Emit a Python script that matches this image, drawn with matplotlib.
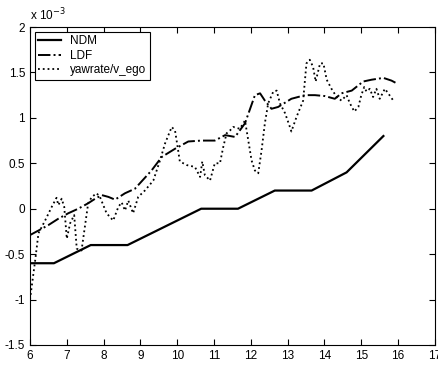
import matplotlib
matplotlib.use('Agg')
import matplotlib.pyplot as plt

plt.rcParams['font.family'] = ['Liberation Sans', 'DejaVu Sans']

# values in units of 1e-3
ndm_x = [6, 6.65, 7.65, 8.65, 10.65, 11.65, 12.65, 13.65, 14.6, 15.6]
ndm_y = [-0.6, -0.6, -0.4, -0.4, 0.0, 0.0, 0.2, 0.2, 0.4, 0.8]

ldf_x = [6.0, 6.23, 6.5, 6.77, 7.04, 7.31, 7.58, 7.77, 7.95, 8.13, 8.31, 8.58,
         8.85, 9.3, 9.58, 9.94, 10.3, 10.66, 11.02, 11.3, 11.57, 11.84, 12.11,
         12.25, 12.38, 12.56, 12.74, 13.1, 13.47, 13.74, 14.01, 14.28, 14.46,
         14.74, 15.05, 15.28, 15.6, 15.82, 15.96]
ldf_y = [-0.29, -0.24, -0.18, -0.11, -0.05, 0.0, 0.06, 0.11, 0.15, 0.13, 0.1, 0.17,
         0.22, 0.42, 0.57, 0.66, 0.74, 0.75, 0.75, 0.81, 0.79, 0.94, 1.25,
         1.27, 1.19, 1.1, 1.12, 1.21, 1.25, 1.25, 1.24, 1.21, 1.27,
         1.3, 1.4, 1.42, 1.44, 1.41, 1.38]

yaw_x = [6.0, 6.14, 6.23, 6.41, 6.59, 6.72, 6.77, 6.86, 6.93, 7.0, 7.09, 7.2,
         7.27, 7.4, 7.49, 7.58, 7.68, 7.81, 7.9, 8.08, 8.26, 8.4, 8.49, 8.58,
         8.67, 8.8, 8.94, 9.12, 9.35, 9.53, 9.67, 9.85, 9.94, 10.01, 10.07,
         10.26, 10.48, 10.62, 10.68, 10.75, 10.89, 11.02, 11.16, 11.25, 11.34,
         11.43, 11.52, 11.7, 11.84, 11.93, 12.02, 12.11, 12.2, 12.29, 12.38,
         12.47, 12.61, 12.7, 12.79, 12.93, 13.06, 13.1, 13.24, 13.42, 13.47,
         13.51, 13.6, 13.69, 13.76, 13.88, 13.97, 14.06, 14.19, 14.33, 14.46,
         14.6, 14.69, 14.81, 14.92, 15.0, 15.08, 15.14, 15.23, 15.32, 15.41,
         15.5, 15.64, 15.73, 15.87]
yaw_y = [-1.0, -0.57, -0.27, -0.13, 0.02, 0.12, 0.04, 0.11, 0.02, -0.33, -0.16, -0.07,
         -0.44, -0.46, -0.2, 0.06, 0.13, 0.17, 0.13, -0.05, -0.13, 0.02, 0.07, -0.02,
         0.09, -0.05, 0.13, 0.2, 0.31, 0.53, 0.72, 0.9, 0.86, 0.68, 0.52,
         0.48, 0.46, 0.35, 0.52, 0.37, 0.31, 0.5, 0.5, 0.68, 0.83,
         0.86, 0.9, 0.88, 0.97, 0.75, 0.53, 0.42, 0.39, 0.64, 0.94,
         1.16, 1.29, 1.3, 1.16, 1.05, 0.9, 0.85, 1.01, 1.19, 1.42,
         1.6, 1.64, 1.56, 1.4, 1.6, 1.6, 1.42, 1.32, 1.23, 1.19,
         1.25, 1.16, 1.07, 1.12, 1.25, 1.34, 1.29, 1.32, 1.23, 1.32,
         1.21, 1.32, 1.27, 1.19]

fig = plt.figure(figsize=(4.38, 3.65), dpi=100)
ax = fig.add_axes([0.0685, 0.0548, 0.9245, 0.8712])

ax.plot(ndm_x, ndm_y, color='black', linestyle='-', linewidth=1.6, label='NDM')
ax.plot(ldf_x, ldf_y, color='black', linestyle='-.', linewidth=1.4, label='LDF')
ax.plot(yaw_x, yaw_y, color='black', linestyle=':', linewidth=1.3, label='yawrate/v_ego')

ax.set_xlim(6, 17)
ax.set_ylim(-1.5, 2)
ax.set_xticks(range(6, 18))
ax.set_yticks([-1.5, -1, -0.5, 0, 0.5, 1, 1.5, 2])
ax.set_yticklabels(['-1.5', '-1', '-0.5', '0', '0.5', '1', '1.5', '2'])
ax.tick_params(direction='in', top=True, right=True, labelsize=8.5, length=4, width=0.8)
for s in ax.spines.values():
    s.set_linewidth(0.8)

ax.text(0.0, 1.012, r'x 10$^{-3}$', transform=ax.transAxes, fontsize=8.5, ha='left', va='bottom')

leg = ax.legend(loc='upper left', fontsize=8.5, fancybox=False, edgecolor='black',
                framealpha=1, handlelength=1.9, borderpad=0.3, labelspacing=0.2,
                borderaxespad=0.4)
leg.get_frame().set_linewidth(0.8)

fig.savefig('out.png', dpi=100)
